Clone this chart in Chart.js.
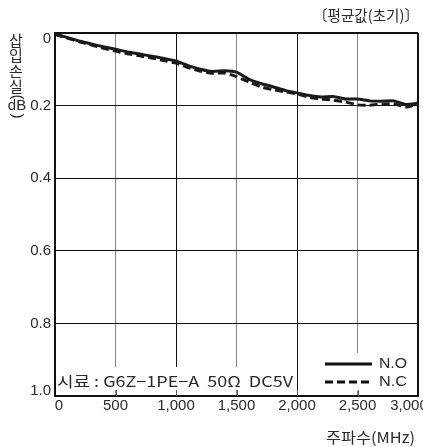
<!DOCTYPE html>
<html>
<head>
<meta charset="utf-8">
<script src="https://cdn.jsdelivr.net/npm/chart.js@4"></script>
<style>
  html, body { margin: 0; padding: 0; background: #fff; }
  #wrap { width: 423px; height: 447px; }
</style>
</head>
<body>
<div id="wrap"><canvas id="chartPerdida"></canvas></div>
<script>
// 주파수 (MHz)
const frecuencias = [0, 100, 200, 300, 400, 500, 600, 700, 800, 900, 1000, 1100, 1200, 1300, 1400, 1500,
    1600, 1700, 1800, 1900, 2000, 2100, 2200, 2300, 2400, 2500, 2600, 2700, 2800, 2900, 3000];
// 삽입손실 (dB)
const serieNO = [0.003, 0.012, 0.022, 0.03, 0.038, 0.045, 0.052, 0.058, 0.064, 0.07, 0.077, 0.09, 0.1, 0.106, 0.104, 0.108,
    0.127, 0.139, 0.148, 0.158, 0.165, 0.172, 0.176, 0.175, 0.182, 0.182, 0.187, 0.188, 0.187, 0.197, 0.193];
const serieNC = [0.004, 0.014, 0.024, 0.033, 0.042, 0.05, 0.057, 0.063, 0.069, 0.076, 0.083, 0.095, 0.105, 0.111, 0.11, 0.12,
    0.135, 0.148, 0.156, 0.162, 0.168, 0.177, 0.182, 0.185, 0.19, 0.198, 0.199, 0.196, 0.195, 0.204, 0.196];
const ticksX = [0, 500, 1000, 1500, 2000, 2500, 3000];
const ticksY = [0, 0.2, 0.4, 0.6, 0.8, 1.0];
const etiquetasX = ['0', '500', '1,000', '1,500', '2,000', '2,500', '3,000'];
const etiquetasY = ['0', '0.2', '0.4', '0.6', '0.8', '1.0'];

const fuenteNum = '"Liberation Sans", Arial, sans-serif';
const fuenteKr = '"Noto Sans CJK KR", "Liberation Sans", sans-serif';

// texto estirado a un ancho dado
function textoAncho(ctx, txt, x, y, ancho) {
    const w = ctx.measureText(txt).width;
    ctx.save();
    ctx.translate(x, y);
    ctx.scale(ancho / w, 1);
    ctx.textAlign = 'left';
    ctx.fillText(txt, 0, 0);
    ctx.restore();
}

// textos y cajas dibujados sobre el lienzo
const textosPlugin = {
    id: 'textos',
    afterDraw(chart) {
        const ctx = chart.ctx;
        const x = chart.scales.x, y = chart.scales.y;
        const area = chart.chartArea;
        const x2000 = x.getPixelForValue(2000);
        ctx.save();

        // cajas blancas (muestra y leyenda)
        ctx.fillStyle = '#fff';
        ctx.fillRect(area.left + 2, 367, x2000 - area.left - 3, 23);
        ctx.fillRect(x2000 + 1, 353, area.right - x2000 - 3, 38);

        ctx.fillStyle = '#2a2a2a';
        ctx.textBaseline = 'middle';

        // etiquetas eje X
        ctx.font = '15px ' + fuenteNum;
        ctx.textAlign = 'center';
        ticksX.forEach((v, i) => {
            let px = x.getPixelForValue(v);
            if (i === 0) px += 4;
            if (i === ticksX.length - 1) px -= 9;
            ctx.fillText(etiquetasX[i], px, 406);
        });

        // etiquetas eje Y
        ctx.textAlign = 'right';
        ticksY.forEach((v, i) => {
            let py = y.getPixelForValue(v);
            if (i === 0) py += 6;
            if (i === ticksY.length - 1) py -= 5;
            ctx.fillText(etiquetasY[i], 51, py);
        });

        // título eje Y vertical
        ctx.textAlign = 'center';
        ctx.font = '15px ' + fuenteKr;
        ['삽', '입', '손', '실'].forEach((c, i) => ctx.fillText(c, 16, 40 + i * 15.5));
        ctx.font = '15px ' + fuenteNum;
        ctx.fillText('dB', 17, 106);
        ['(', ')'].forEach((c, i) => {
            ctx.save();
            ctx.translate(17, i === 0 ? 97 : 116);
            ctx.rotate(Math.PI / 2);
            ctx.fillText(c, 0, 0);
            ctx.restore();
        });

        // título superior y eje X
        ctx.font = '15px ' + fuenteKr;
        textoAncho(ctx, '〔평균값(초기)〕', 313, 15, 106);
        textoAncho(ctx, '주파수(MHz)', 326, 437, 89);

        // muestra
        ctx.font = '15px ' + fuenteKr;
        textoAncho(ctx, '시료 : G6Z−1PE−A  50Ω  DC5V', 57, 381, 236);

        // leyenda
        ctx.strokeStyle = '#111';
        ctx.lineWidth = 3;
        ctx.beginPath(); ctx.moveTo(325, 364); ctx.lineTo(372, 364); ctx.stroke();
        ctx.setLineDash([8, 4]);
        ctx.beginPath(); ctx.moveTo(325, 382); ctx.lineTo(372, 382); ctx.stroke();
        ctx.setLineDash([]);
        ctx.font = '15px ' + fuenteNum;
        textoAncho(ctx, 'N.O', 379, 364, 28);
        textoAncho(ctx, 'N.C', 379, 382, 28);

        // marcas interiores del eje X
        ctx.lineWidth = 1;
        ctx.strokeStyle = '#555';
        ticksX.slice(1, -1).forEach(v => {
            const px = Math.round(x.getPixelForValue(v)) + 0.5;
            ctx.beginPath(); ctx.moveTo(px, area.bottom - 6); ctx.lineTo(px, area.bottom); ctx.stroke();
        });
        ctx.restore();
    }
};

new Chart(document.getElementById('chartPerdida'), {
    type: 'line',
    data: {
        labels: frecuencias,
        datasets: [
            { label: 'N.O', data: frecuencias.map((f, i) => ({ x: f, y: serieNO[i] })), borderColor: '#1a1a1a', borderWidth: 3, pointRadius: 0, tension: 0.15 },
            { label: 'N.C', data: frecuencias.map((f, i) => ({ x: f, y: serieNC[i] })), borderColor: '#1a1a1a', borderWidth: 3, borderDash: [8, 4], pointRadius: 0, tension: 0.15 }
        ]
    },
    options: {
        responsive: true,
        maintainAspectRatio: false,
        animation: false,
        layout: { padding: { left: 55, right: 5, top: 33, bottom: 51 } },
        plugins: { legend: { display: false }, tooltip: { enabled: false } },
        scales: {
            x: {
                type: 'linear', min: 0, max: 3000,
                afterBuildTicks: s => { s.ticks = ticksX.map(v => ({ value: v })); },
                ticks: { display: false },
                grid: {
                    drawTicks: false,
                    color: c => (c.tick.value % 1000 === 500 ? '#888' : '#111'),
                    lineWidth: c => (c.tick.value === 3000 ? 2 : 1)
                },
                border: { color: '#111', width: 2 }
            },
            y: {
                reverse: true, min: 0, max: 1.0,
                afterBuildTicks: s => { s.ticks = ticksY.map(v => ({ value: v })); },
                ticks: { display: false },
                grid: { drawTicks: false, color: '#111', lineWidth: c => (c.tick.value === 0 ? 2 : 1) },
                border: { color: '#111', width: 2 }
            }
        }
    },
    plugins: [textosPlugin]
});
</script>
</body>
</html>
